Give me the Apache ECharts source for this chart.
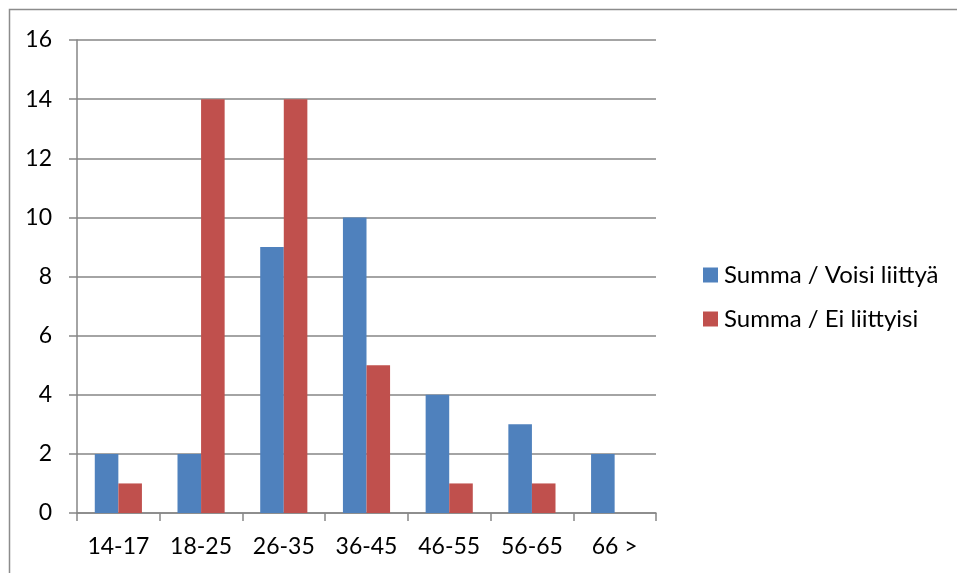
<!DOCTYPE html>
<html>
<head>
<meta charset="utf-8">
<style>
  html, body { margin: 0; padding: 0; background: #fff; }
  #chart { width: 957px; height: 573px; }
</style>
<script src="https://cdn.jsdelivr.net/npm/echarts@6/dist/echarts.min.js"></script>
</head>
<body>
<div id="chart"></div>
<script>
// Age groups and respondent counts
const categories = ['14-17', '18-25', '26-35', '36-45', '46-55', '56-65', '66 >'];
const voisiLiittya = [2, 2, 9, 10, 4, 3, 2];
const eiLiittyisi = [1, 14, 14, 5, 1, 1, null];
const seriesNames = ['Summa / Voisi liittyä', 'Summa / Ei liittyisi'];

const axisGray = '#868686';
const font = 'Lato, "Open Sans", sans-serif';

const chart = echarts.init(document.getElementById('chart'), null, { renderer: 'canvas' });
chart.setOption({
  animation: false,
  backgroundColor: '#ffffff',
  textStyle: { fontFamily: font },
  graphic: [{
    type: 'rect',
    shape: { x: 9.5, y: 9.5, width: 1000, height: 1000 },
    style: { fill: 'none', stroke: '#8c8c8c', lineWidth: 1.5 },
    silent: true
  }],
  grid: { left: 77, right: 301, top: 40, bottom: 60 },
  legend: {
    orient: 'vertical',
    left: 698,
    top: 258,
    itemWidth: 15,
    itemHeight: 15,
    itemGap: 20,
    icon: 'rect',
    textStyle: { fontFamily: font, fontSize: 24, color: '#000', lineHeight: 24, padding: [0, 0, 0, 1] },
    data: seriesNames
  },
  xAxis: {
    type: 'category',
    data: categories,
    boundaryGap: true,
    axisLine: { lineStyle: { color: axisGray, width: 1.5 } },
    axisTick: { show: true, length: 8, lineStyle: { color: axisGray, width: 1.5 } },
    axisLabel: { color: '#000', fontSize: 23, fontFamily: font, margin: 22 },
    splitLine: { show: false }
  },
  yAxis: {
    type: 'value',
    min: 0,
    max: 16,
    interval: 2,
    axisLine: { show: true, lineStyle: { color: axisGray, width: 1.5 } },
    axisTick: { show: true, length: 8, lineStyle: { color: axisGray, width: 1.5 } },
    axisLabel: { color: '#000', fontSize: 23, fontFamily: font, margin: 25 },
    splitLine: { show: true, lineStyle: { color: axisGray, width: 1.5 } }
  },
  series: [
    {
      name: seriesNames[0],
      type: 'bar',
      data: voisiLiittya,
      itemStyle: { color: '#4F81BD' },
      barGap: '0%',
      barCategoryGap: '43%'
    },
    {
      name: seriesNames[1],
      type: 'bar',
      data: eiLiittyisi,
      itemStyle: { color: '#C0504D' },
      barGap: '0%',
      barCategoryGap: '43%'
    }
  ]
});
</script>
</body>
</html>
